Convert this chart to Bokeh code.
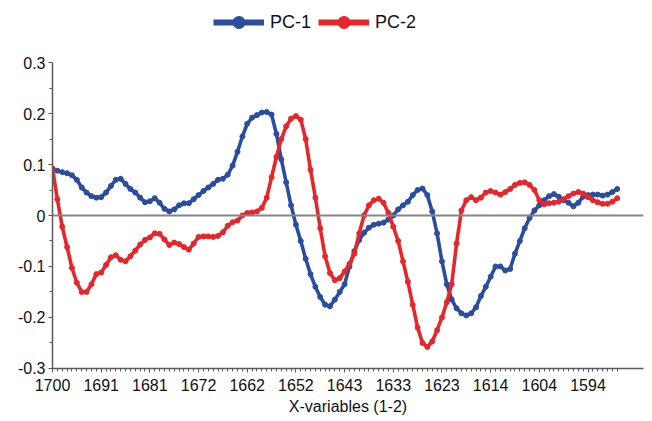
from bokeh.plotting import figure
from bokeh.layouts import column
from bokeh.models import (ColumnDataSource, Range1d, FixedTicker, Span, Legend, LegendItem)
from bokeh.embed import file_html
from bokeh.resources import INLINE

# ---- data ----
tick_labels = ["1700", "1691", "1681", "1672", "1662", "1652",
               "1643", "1633", "1623", "1614", "1604", "1594"]
series_names = ["PC-1", "PC-2"]
y_ticks = [-0.3, -0.2, -0.1, 0, 0.1, 0.2, 0.3]
y_tick_labels = ["-0.3", "-0.2", "-0.1", "0", "0.1", "0.2", "0.3"]
y_minor = [-0.25, -0.15, -0.05, 0.05, 0.15, 0.25]

pc1 = [0.092, 0.088, 0.085, 0.083, 0.079, 0.070, 0.055, 0.045, 0.038, 0.035,
       0.036, 0.045, 0.058, 0.070, 0.072, 0.062, 0.052, 0.045, 0.035, 0.026,
       0.028, 0.034, 0.025, 0.013, 0.008, 0.012, 0.020, 0.024, 0.024, 0.032,
       0.040, 0.048, 0.055, 0.062, 0.070, 0.072, 0.080, 0.098, 0.125, 0.155,
       0.180, 0.192, 0.197, 0.202, 0.203, 0.198, 0.160, 0.110, 0.065, 0.020,
       -0.018, -0.050, -0.085, -0.115, -0.140, -0.160, -0.175, -0.178, -0.165, -0.150,
       -0.135, -0.100, -0.070, -0.048, -0.034, -0.024, -0.018, -0.016, -0.014, -0.008,
       0.000, 0.012, 0.020, 0.027, 0.040, 0.050, 0.053, 0.040, 0.008, -0.035,
       -0.090, -0.135, -0.165, -0.182, -0.192, -0.196, -0.192, -0.180, -0.158, -0.140,
       -0.120, -0.100, -0.100, -0.108, -0.105, -0.075, -0.050, -0.025, -0.005, 0.010,
       0.020, 0.030, 0.038, 0.042, 0.037, 0.030, 0.025, 0.018, 0.025, 0.037,
       0.040, 0.041, 0.041, 0.039, 0.041, 0.046, 0.052]

pc2 = [0.092, 0.032, -0.022, -0.062, -0.103, -0.132, -0.150, -0.150, -0.135, -0.115,
       -0.112, -0.097, -0.082, -0.078, -0.087, -0.090, -0.080, -0.069, -0.057, -0.048,
       -0.043, -0.035, -0.036, -0.047, -0.058, -0.053, -0.056, -0.062, -0.067, -0.055,
       -0.042, -0.041, -0.041, -0.042, -0.040, -0.033, -0.020, -0.013, -0.010, 0.000,
       0.005, 0.006, 0.008, 0.015, 0.035, 0.075, 0.115, 0.150, 0.175, 0.190,
       0.195, 0.188, 0.150, 0.090, 0.035, -0.025, -0.080, -0.113, -0.127, -0.123,
       -0.110, -0.095, -0.075, -0.035, 0.000, 0.020, 0.030, 0.033, 0.025, 0.005,
       -0.022, -0.050, -0.090, -0.130, -0.175, -0.220, -0.250, -0.258, -0.247, -0.225,
       -0.200, -0.170, -0.135, -0.055, 0.010, 0.030, 0.036, 0.030, 0.035, 0.045,
       0.048, 0.045, 0.041, 0.046, 0.052, 0.060, 0.064, 0.065, 0.060, 0.050,
       0.030, 0.022, 0.024, 0.025, 0.027, 0.032, 0.038, 0.043, 0.046, 0.043,
       0.036, 0.030, 0.026, 0.023, 0.023, 0.027, 0.034]

idx = list(range(len(pc1)))

BLUE = "#2B4D9E"
RED = "#E6262B"
FONT = "Liberation Sans"
AXC = "#5a5a5a"

# ---------- legend strip ----------
lf = figure(width=648, height=50, output_backend="svg", toolbar_location=None,
            x_range=Range1d(0, 1), y_range=Range1d(0, 1),
            min_border=0, min_border_left=0, min_border_right=0,
            min_border_top=0, min_border_bottom=0)
lf.axis.visible = False
lf.grid.visible = False
lf.outline_line_color = None
nan = float("nan")
lsrc = ColumnDataSource(dict(x=[nan], y=[nan]))
l1 = lf.line("x", "y", source=lsrc, line_color=BLUE, line_width=6)
m1 = lf.scatter("x", "y", source=lsrc, size=12, fill_color=BLUE, line_color=BLUE)
l2 = lf.line("x", "y", source=lsrc, line_color=RED, line_width=6)
m2 = lf.scatter("x", "y", source=lsrc, size=12, fill_color=RED, line_color=RED)
legend = Legend(items=[LegendItem(label=series_names[0], renderers=[l1, m1]),
                       LegendItem(label=series_names[1], renderers=[l2, m2])],
                orientation="horizontal", location=(161, 13),
                glyph_width=51, glyph_height=30, label_height=30,
                label_standoff=6, spacing=7, padding=0, margin=0,
                border_line_color=None, background_fill_alpha=0,
                label_text_font=FONT, label_text_font_size="18px",
                label_text_color="#111111")
lf.add_layout(legend, "center")

# ---------- main chart ----------
p = figure(width=648, height=371, output_backend="svg", toolbar_location=None,
           x_range=Range1d(0, 121.4), y_range=Range1d(-0.3002, 0.3002),
           min_border_left=52, min_border_right=5, min_border_top=12,
           min_border_bottom=53)
p.outline_line_color = None
p.xgrid.visible = False
p.ygrid.visible = False

p.add_layout(Span(location=0, dimension="width", line_color="#858585", line_width=2))

src = ColumnDataSource(dict(x=idx, a=pc1, b=pc2))
p.line("x", "a", source=src, line_color=BLUE, line_width=3.6)
p.scatter("x", "a", source=src, size=5, fill_color=BLUE, line_color=BLUE)
p.line("x", "b", source=src, line_color=RED, line_width=3.6)
p.scatter("x", "b", source=src, size=5, fill_color=RED, line_color=RED)

xa = p.xaxis[0]
xa.ticker = FixedTicker(ticks=[i * 10 for i in range(len(tick_labels))],
                        minor_ticks=idx)
xa.major_label_overrides = {i * 10: t for i, t in enumerate(tick_labels)}
xa.axis_label = "X-variables (1-2)"
xa.axis_label_text_font = FONT
xa.axis_label_text_font_size = "16px"
xa.axis_label_text_font_style = "normal"
xa.axis_label_text_color = "#111111"
xa.axis_label_standoff = 4
xa.major_label_text_font = FONT
xa.major_label_text_font_size = "16px"
xa.major_label_text_color = "#111111"
xa.major_label_standoff = 6
xa.axis_line_color = AXC
xa.axis_line_width = 1.5
xa.major_tick_in = 0
xa.major_tick_out = 4
xa.minor_tick_in = 0
xa.minor_tick_out = 3
xa.major_tick_line_color = AXC
xa.minor_tick_line_color = AXC

ya = p.yaxis[0]
ya.ticker = FixedTicker(ticks=y_ticks, minor_ticks=y_minor)
ya.major_label_overrides = {v: t for v, t in zip(y_ticks, y_tick_labels)}
ya.major_label_text_font = FONT
ya.major_label_text_font_size = "16px"
ya.major_label_text_color = "#111111"
ya.major_label_standoff = 3
ya.axis_line_color = AXC
ya.axis_line_width = 1.5
ya.major_tick_in = 0
ya.major_tick_out = 4
ya.minor_tick_in = 0
ya.minor_tick_out = 3
ya.major_tick_line_color = AXC
ya.minor_tick_line_color = AXC

layout = column(lf, p, spacing=0)
open("out.html", "w").write(file_html(layout, INLINE))
